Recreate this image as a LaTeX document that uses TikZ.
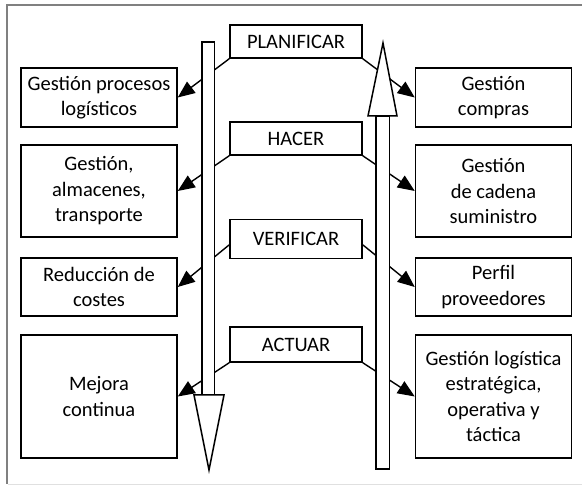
\documentclass[tikz,border=0pt]{standalone}
\usepackage{fontspec}
\setmainfont{Carlito}
\usetikzlibrary{arrows.meta}
\tikzset{
  box/.style={draw=black, line width=1.5pt, fill=white, align=center, inner sep=0pt,
    font=\fontsize{20.5}{25.5}\selectfont},
  sidebox/.style={box, minimum width=156pt},
  labbox/.style={box, minimum width=132pt},
  conn/.style={draw=black, line width=1.4pt, -{Triangle[length=17pt,width=14pt]}},
  shaft/.style={draw=black, line width=1.5pt, fill=white, line join=miter},
  frameline/.style={line width=2pt}
}
\begin{document}
\begin{tikzpicture}[x=1pt,y=-1pt]
\useasboundingbox (0,0) rectangle (582,486);
\fill[white] (0,0) rectangle (582,486);
% frame
\draw[frameline, draw=black!50] (582,5) -- (7,5) -- (7,484);
\draw[line width=1.5pt, draw=black!12] (8,484.5) -- (582,484.5);

% left boxes
\node[sidebox, minimum height=59pt] (L1) at (99,97.5) {Gestión procesos\\logísticos};
\node[sidebox, minimum height=92pt] (L2) at (99,191) {Gestión,\\almacenes,\\transporte};
\node[sidebox, minimum height=58pt] (L3) at (99,287) {Reducción de\\costes};
\node[sidebox, minimum height=123pt] (L4) at (99,396.5) {Mejora\\continua};
% right boxes
\node[sidebox, minimum height=59pt] (R1) at (493.5,97.5) {Gestión\\compras};
\node[sidebox, minimum height=92pt] (R2) at (493.5,191) {Gestión\\de cadena\\suministro};
\node[sidebox, minimum height=58pt] (R3) at (493.5,287) {Perfil\\proveedores};
\node[sidebox, minimum height=123pt] (R4) at (493.5,396.5) {Gestión logística\\estratégica,\\operativa y\\táctica};
% PDCA labels
\node[labbox, minimum height=33pt] (P) at (296,41.5) {PLANIFICAR};
\node[labbox, minimum height=33pt] (H) at (296,138.5) {HACER};
\node[labbox, minimum height=39pt] (V) at (296,238.8) {VERIFICAR};
\node[labbox, minimum height=35pt] (A) at (296,344.5) {ACTUAR};

% connectors
\draw[conn] (P.south west) -- (L1.east);
\draw[conn] (P.south east) -- (R1.west);
\draw[conn] (H.south west) -- (L2.east);
\draw[conn] (H.south east) -- (R2.west);
\draw[conn] ([yshift=-6pt]V.west) -- (L3.east);
\draw[conn] ([yshift=-6pt]V.east) -- (R3.west);
\draw[conn] (A.south west) -- (L4.east);
\draw[conn] (A.south east) -- (R4.west);

% big arrows
\draw[shaft] (202,42) rectangle (214.5,395);
\draw[shaft] (194,395) -- (224,395) -- (209,470) -- cycle;
\draw[shaft] (376,116) rectangle (389.5,469);
\draw[shaft] (368,116) -- (397,116) -- (383,43) -- cycle;
\end{tikzpicture}
\end{document}
